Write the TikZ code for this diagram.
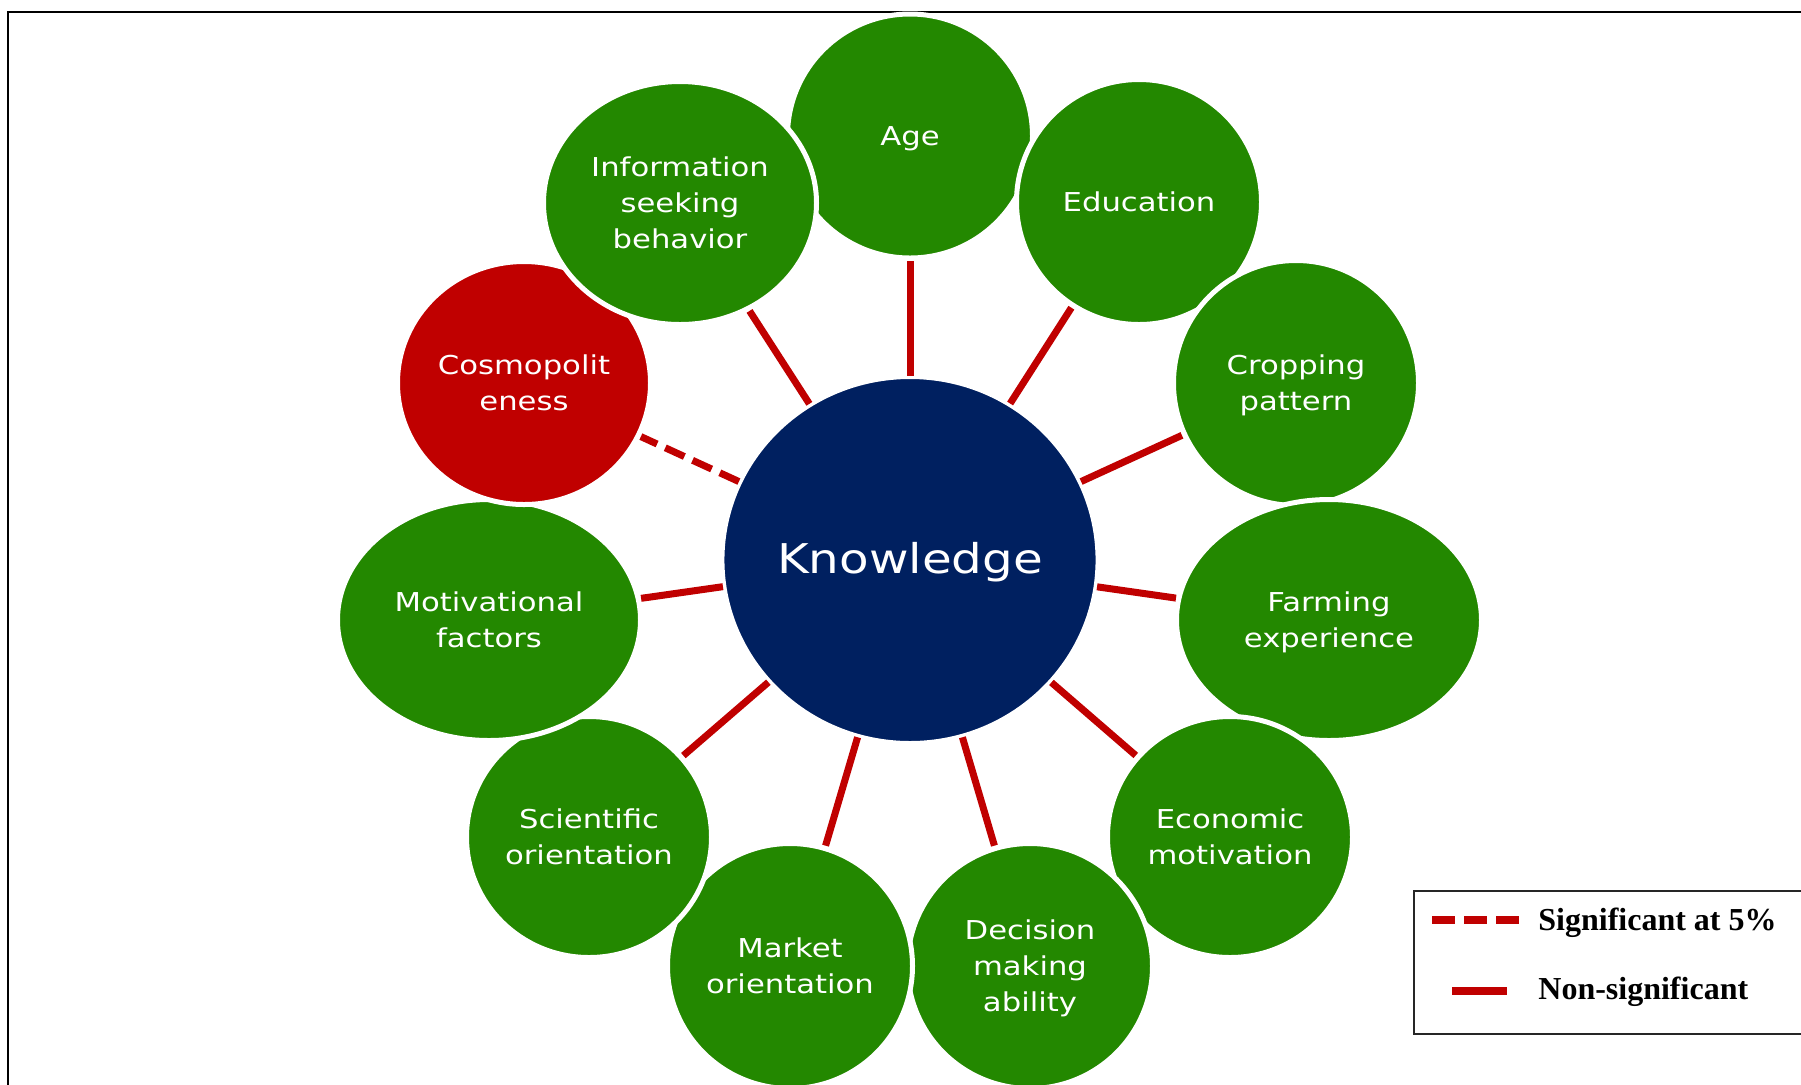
\documentclass[tikz,border=0pt]{standalone}
\usepackage{fontspec}
\usetikzlibrary{shapes.geometric}
\newfontfamily\satfontfam[FakeStretch=1.18]{DejaVu Sans}
\newfontfamily\legfontfam{Liberation Serif}
\definecolor{mygreen}{RGB}{35,136,0}
\definecolor{mynavy}{RGB}{0,32,96}
\definecolor{myred}{RGB}{192,0,0}
\tikzset{
  sat/.style n args={2}{ellipse, fill=mygreen, draw=white, line width=2.5pt,
    minimum width=#1pt, minimum height=#2pt, inner sep=0pt, outer sep=0pt,
    text=white, align=center, text depth=0pt,
    font=\satfontfam\fontsize{13}{18}\selectfont},
  hub/.style={ellipse, fill=mynavy, draw=white, line width=2.5pt,
    minimum width=186.5pt, minimum height=183.5pt, inner sep=0pt, outer sep=0pt,
    text=white, align=center, text depth=2.5pt,
    font=\satfontfam\fontsize{20.5}{25}\selectfont},
  conn/.style={draw=myred, line width=3.5pt, shorten >=1.5pt, shorten <=0.5pt},
  sigconn/.style={conn, dash pattern=on 10.5pt off 4.5pt},
  legtext/.style={anchor=base west, text=black, inner sep=0pt,
    font=\legfontfam\bfseries\fontsize{16}{19}\selectfont},
  frameline/.style={draw=black, line width=1pt},
}
\begin{document}
\begin{tikzpicture}[x=0.5pt,y=-0.5pt]
\useasboundingbox (0,0) rectangle (1801,1084);
% outer frame
\draw[frameline] (8,1100) -- (8,12) -- (1820,12);

% satellites, drawn clockwise from Age (later ones on top)
\node[sat={122.5}{122}] (age) at (910,136) {Age};
\node[sat={122.5}{122.5}] (edu) at (1139,202) {Education};
\node[sat={122.5}{122.5}] (crop) at (1296,383) {Cropping\\pattern};
\node[sat={152.5}{120.5}] (farm) at (1329,620) {Farming\\experience};
\node[sat={122.5}{120.5}] (econ) at (1230,837) {Economic\\motivation};
\node[sat={122.5}{122.5}] (dec) at (1030,966) {Decision\\making\\ability};
\node[sat={122.5}{122.5}] (mkt) at (790,966) {Market\\orientation};
\node[sat={122.5}{120.5}] (sci) at (589,837) {Scientific\\orientation};
\node[sat={151.5}{120.5}] (mot) at (489,620) {Motivational\\factors};
\node[sat={126.5}{121.5}, fill=myred] (cos) at (524,383) {Cosmopolit\\eness};
\node[sat={136.5}{121.5}] (info) at (680,203) {Information\\seeking\\behavior};

% hub
\node[hub] (know) at (910,560) {Knowledge};

% connectors
\draw[conn] (know) -- (age);
\draw[conn] (know) -- (edu);
\draw[conn] (know) -- (crop);
\draw[conn] (know) -- (farm);
\draw[conn] (know) -- (econ);
\draw[conn] (know) -- (dec);
\draw[conn] (know) -- (mkt);
\draw[conn] (know) -- (sci);
\draw[conn] (know) -- (mot);
\draw[sigconn] (know) -- (cos);
\draw[conn] (know) -- (info);

% legend
\node[draw=black!85, line width=1pt, minimum width=200pt, minimum height=71.5pt,
      anchor=north west, inner sep=0pt] (legend) at (1413,890) {};
\coordinate (da) at (1432,920);
\coordinate (db) at (1519,920);
\coordinate (sa) at (1452,991);
\coordinate (sb) at (1507,991);
\draw[draw=myred, line width=4pt, dash pattern=on 11.5pt off 4.5pt] (da) -- (db);
\draw[draw=myred, line width=4pt] (sa) -- (sb);
\node[legtext] (sigtext) at (1538,930) {Significant at 5\%};
\node[legtext] (nstext) at (1538,999) {Non-significant};
\end{tikzpicture}
\end{document}
